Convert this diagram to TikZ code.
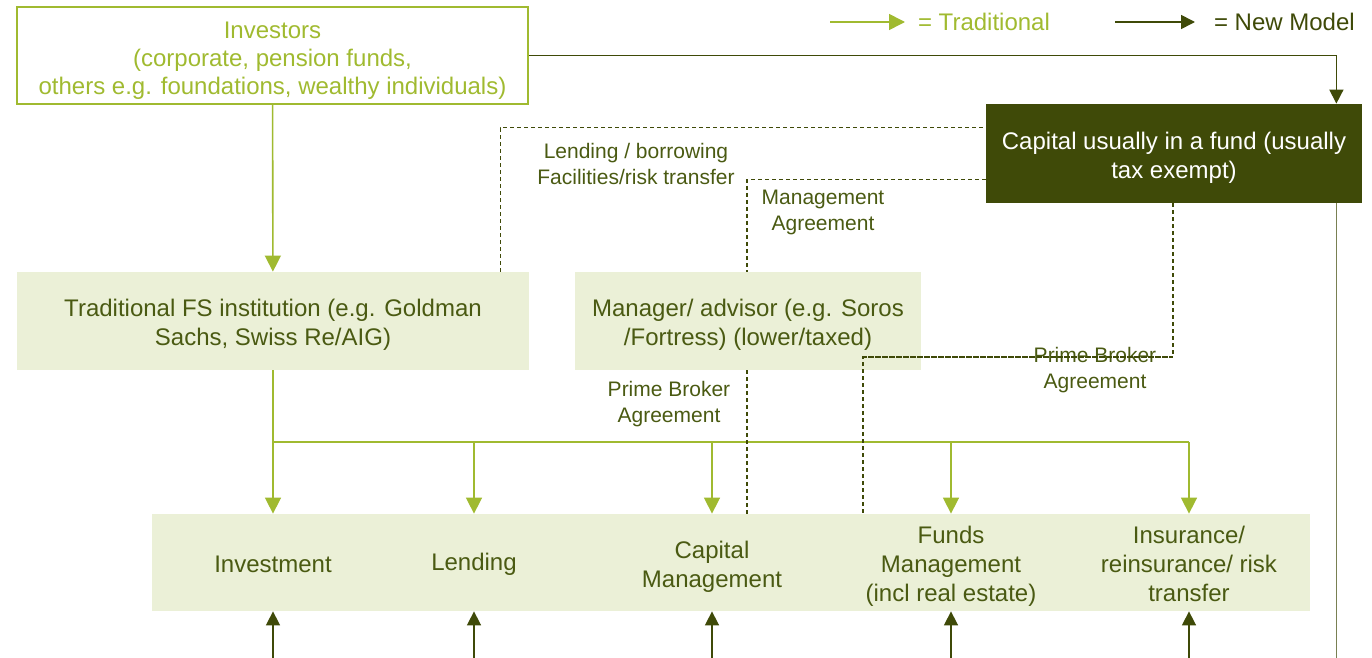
\documentclass[tikz,border=0pt]{standalone}
\usepackage{fontspec}
\setmainfont{Liberation Sans}
\usepackage{xcolor}
\usetikzlibrary{arrows.meta, positioning}

\definecolor{tradgreen}{HTML}{A0BA30}
\definecolor{newolive}{HTML}{3F4A08}
\definecolor{textolive}{HTML}{4A5A12}
\definecolor{boxfill}{HTML}{EBF0D7}

% taller first line, pushes box text down a little
\newcommand{\boxstrut}[1]{\rule{0pt}{#1}}

\begin{document}
\begin{tikzpicture}[
  x=0.5pt, y=-0.5pt,
  every node/.style={font=\fontsize{12}{14.5}\selectfont, text=textolive, align=center},
  lightbox/.style={
    rectangle, fill=boxfill, inner sep=0pt,
    minimum width=#1, minimum height=49pt},
  outbox/.style={
    rectangle, draw=tradgreen, line width=0.8pt, text=tradgreen, inner sep=0pt,
    minimum width=#1, minimum height=48.5pt,
    font=\fontsize{12}{14}\selectfont},
  darkbox/.style={
    rectangle, fill=newolive, text=white, inner sep=0pt,
    minimum width=#1, minimum height=49.5pt},
  small/.style={font=\fontsize{10.5}{13}\selectfont},
  tradarr/.style={-{Triangle[length=8pt,width=8pt]}, line width=0.8pt, draw=tradgreen},
  tradline/.style={line width=0.8pt, draw=tradgreen},
  newarr/.style={-{Triangle[length=7pt,width=7pt]}, line width=0.8pt, draw=newolive},
  newline/.style={line width=0.8pt, draw=newolive!70},
  dashline/.style={line width=0.6pt, draw=newolive, dash pattern=on 2pt off 1.5pt}
]
\useasboundingbox (0,0) rectangle (1372,658);

%% ── LEGEND ───────────────────────────────────────────────
\coordinate (legtA) at (830,22);
\coordinate (legtB) at (905,22);
\coordinate (legnA) at (1115,22);
\coordinate (legnB) at (1195,22);
\draw[tradarr] (legtA) -- (legtB);
\draw[newarr]  (legnA) -- (legnB);
\node[anchor=west, text=tradgreen] (legtrad) at (911,22) {= Traditional};
\node[anchor=west, text=newolive]  (legnew)  at (1207,22) {= New Model};

%% ── TOP ROW ──────────────────────────────────────────────
\node[outbox=255.5pt] (investors) at (272.5,55.5)
  {\boxstrut{13.5pt}Investors\\(corporate, pension funds,\\others e.g. foundations, wealthy individuals)};
\node[darkbox=188pt]  (capital)   at (1174,153.5)
  {\boxstrut{12.5pt}Capital usually in a fund (usually\\tax exempt)};

%% ── MIDDLE ROW ───────────────────────────────────────────
\node[lightbox=256pt] (fsinst)  at (273,321)
  {\boxstrut{12pt}Traditional FS institution (e.g. Goldman\\Sachs, Swiss Re/AIG)};
\node[lightbox=173pt] (manager) at (748,321)
  {\boxstrut{12pt}Manager/ advisor (e.g. Soros\\/Fortress) (lower/taxed)};

%% ── BOTTOM ROW ───────────────────────────────────────────
\node[lightbox=579pt, minimum height=48.5pt] (activities) at (731,562.5) {};
\node (invest) at (273,564)  {Investment};
\node (lend)   at (474,564)  {Lending};
\node (capman) at (712,564)  {\boxstrut{11.5pt}Capital\\Management};
\node (funds)  at (951,564)  {\boxstrut{10.5pt}Funds\\Management\\(incl real estate)};
\node (insur)  at (1189,564) {Insurance/\\reinsurance/ risk\\transfer};

\coordinate (bus) at (0,442);
\coordinate (bot) at (0,658);
\coordinate (pbturn) at (863,357);

%% Traditional flow
\draw[tradarr] (investors) -- (fsinst);
\draw[tradline] (fsinst.south) -- (fsinst.south |- bus) -- (insur |- bus);
\foreach \n in {invest,lend,capman,funds,insur}
  \draw[tradarr] (\n |- bus) -- (\n |- activities.north);

%% New model flow
\draw[newarr] (investors.east) -| ([xshift=-13pt]capital.north east);
\draw[newline] ([xshift=-13pt]capital.south east) -- ([xshift=-13pt]capital.south east |- bot);
\foreach \n in {invest,lend,capman,funds,insur}
  \draw[newarr] (\n |- bot) -- (\n |- activities.south);

%% Agreements (dashed)
\draw[dashline] ([xshift=-14.5pt]fsinst.north east) |- ([yshift=-12pt]capital.north west);
\draw[dashline] ([yshift=-38pt]capital.north west) -| ([xshift=-0.5pt]manager.north);
\draw[dashline] ([xshift=-0.5pt]manager.south) -- ([xshift=-0.5pt]manager.south |- activities.north);
\draw[dashline] ([xshift=-0.5pt]capital.south) |- (pbturn) -- (pbturn |- activities.north);

%% Labels
\node[small] (lendlbl) at (636,164)  {Lending / borrowing\\Facilities/risk transfer};
\node[small] (mgmtlbl) at (823,212)  {Management\\Agreement};
\node[small] (pblblA)  at (669,404)  {Prime Broker\\Agreement};
\node[small] (pblblB)  at (1095,370) {Prime Broker\\Agreement};
\draw[dashline] (pbturn) -- ([xshift=-0.5pt]capital.south |- pbturn);

\end{tikzpicture}
\end{document}
